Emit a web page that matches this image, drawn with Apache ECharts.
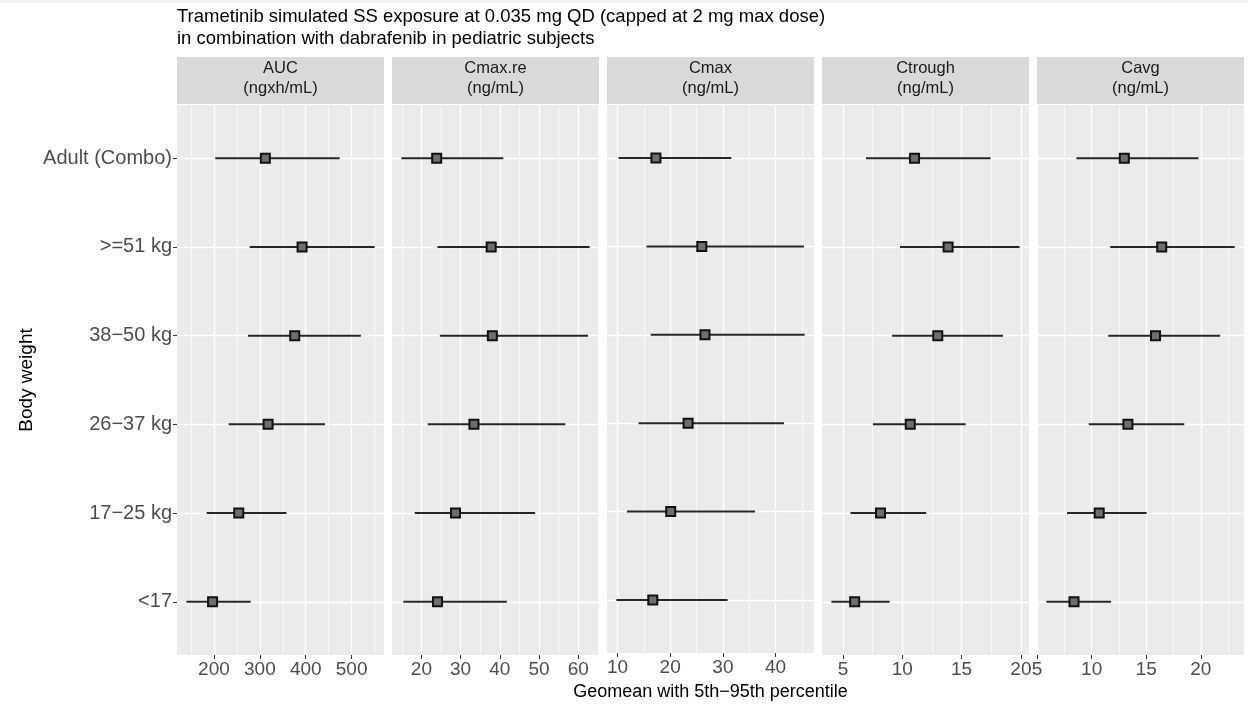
<!DOCTYPE html>
<html>
<head>
<meta charset="utf-8">
<script src="https://cdn.jsdelivr.net/npm/echarts@6/dist/echarts.min.js"></script>
<style>
  html, body { margin: 0; padding: 0; background: #ffffff; }
  #chart { width: 1248px; height: 706px; }
</style>
</head>
<body>
<div id="chart"></div>
<script>
// Body-weight groups, top row first
const groups = ['Adult (Combo)', '>=51 kg', '38\u221250 kg', '26\u221237 kg', '17\u221225 kg', '<17'];

// Facet headers
const panelTitles = ['AUC\n(ngxh/mL)', 'Cmax.re\n(ng/mL)', 'Cmax\n(ng/mL)', 'Ctrough\n(ng/mL)', 'Cavg\n(ng/mL)'];

// Geometric mean, 5th and 95th percentile per group
const aucGeo = [312, 392, 376, 318, 254, 197];
const aucP5 = [203, 278, 274, 232, 184, 140];
const aucP95 = [474, 550, 520, 442, 358, 280];

const cmaxReGeo = [23.9, 37.8, 38.1, 33.4, 28.7, 24.1];
const cmaxReP5 = [14.9, 24.1, 24.7, 21.6, 18.3, 15.4];
const cmaxReP95 = [40.9, 62.9, 62.5, 56.7, 49.0, 41.8];

const cmaxGeo = [17.3, 26.0, 26.6, 23.4, 20.1, 16.7];
const cmaxP5 = [10.2, 15.5, 16.3, 14.0, 11.8, 9.8];
const cmaxP95 = [31.6, 45.4, 45.5, 41.6, 36.1, 30.9];

const ctroughGeo = [11.03, 13.86, 12.99, 10.67, 8.16, 5.98];
const ctroughP5 = [6.93, 9.80, 9.14, 7.53, 5.63, 4.02];
const ctroughP95 = [17.44, 19.89, 18.49, 15.34, 12.01, 8.93];

const cavgGeo = [12.99, 16.42, 15.85, 13.32, 10.69, 8.38];
const cavgP5 = [8.60, 11.70, 11.52, 9.73, 7.74, 5.85];
const cavgP95 = [19.79, 23.10, 21.78, 18.49, 15.03, 11.78];

// Axis breaks per facet
const aucTicks = [200, 300, 400, 500];
const aucMinor = [150, 250, 350, 450, 550];
const cmaxReTicks = [20, 30, 40, 50, 60];
const cmaxReMinor = [15, 25, 35, 45, 55, 65];
const cmaxTicks = [10, 20, 30, 40];
const cmaxMinor = [15, 25, 35, 45];
const ctroughTicks = [5, 10, 15, 20];
const ctroughMinor = [7.5, 12.5, 17.5];
const cavgTicks = [5, 10, 15, 20];
const cavgMinor = [7.5, 12.5, 17.5, 22.5];

const panels = [
  { title: panelTitles[0], geo: aucGeo, lo: aucP5, hi: aucP95, ticks: aucTicks, minor: aucMinor },
  { title: panelTitles[1], geo: cmaxReGeo, lo: cmaxReP5, hi: cmaxReP95, ticks: cmaxReTicks, minor: cmaxReMinor },
  { title: panelTitles[2], geo: cmaxGeo, lo: cmaxP5, hi: cmaxP95, ticks: cmaxTicks, minor: cmaxMinor },
  { title: panelTitles[3], geo: ctroughGeo, lo: ctroughP5, hi: ctroughP95, ticks: ctroughTicks, minor: ctroughMinor },
  { title: panelTitles[4], geo: cavgGeo, lo: cavgP5, hi: cavgP95, ticks: cavgTicks, minor: cavgMinor }
];

// Facet layout
const FONT = '"Liberation Sans", Arial, sans-serif';
const panelLeft0 = 177, panelStep = 215, panelWidth = 207;
const panelTop = 105, panelHeight = 550;
const stripTop = 57, stripHeight = 47;
const catIdx = groups.map((g, j) => j + 1);

const grids = [], xAxes = [], yAxes = [], series = [];
const graphics = [
  // faint band along the top edge
  { type: 'rect', silent: true, shape: { x: 0, y: 0, width: 1248, height: 3 }, style: { fill: '#F0F0F0' } }
];

panels.forEach((p, i) => {
  const left = panelLeft0 + i * panelStep;
  grids.push({
    left: left, top: panelTop, width: panelWidth, height: panelHeight,
    show: true, backgroundColor: '#EBEBEB', borderWidth: 0, containLabel: false
  });

  // 5% expansion around the data extent on each side
  const dMin = Math.min(...p.lo), dMax = Math.max(...p.hi);
  const pad = (dMax - dMin) * 0.05;
  const xMin = dMin - pad, xMax = dMax + pad;

  // minor grid lines
  xAxes.push({
    type: 'value', gridIndex: i, position: 'bottom', min: xMin, max: xMax,
    axisLine: { show: false },
    axisTick: { show: false, customValues: p.minor },
    axisLabel: { show: false, customValues: p.minor },
    splitLine: { show: true, lineStyle: { color: '#FFFFFF', width: 0.7 } }
  });
  // major grid lines, ticks and labels
  const major = {
    type: 'value', gridIndex: i, position: 'bottom', offset: 0, min: xMin, max: xMax,
    axisLine: { show: false, onZero: false },
    axisTick: { show: true, length: 4, customValues: p.ticks, lineStyle: { color: '#333333', width: 1 } },
    axisLabel: { show: true, customValues: p.ticks, color: '#4D4D4D', fontSize: 19, fontFamily: FONT, margin: 5 },
    splitLine: { show: true, lineStyle: { color: '#FFFFFF', width: 1.4 } }
  };
  if (i === 2) {
    major.name = 'Geomean with 5th\u221295th percentile';
    major.nameLocation = 'middle';
    major.nameGap = 30;
    major.nameTextStyle = { color: '#000000', fontSize: 18, fontFamily: FONT };
  }
  xAxes.push(major);

  const yAx = {
    type: 'value', gridIndex: i, min: 0.4, max: 6.6, inverse: true,
    axisLine: { show: false, onZero: false },
    axisTick: { show: i === 0, length: 4, customValues: catIdx, lineStyle: { color: '#333333', width: 1 } },
    axisLabel: {
      show: i === 0, customValues: catIdx, color: '#4D4D4D', fontSize: 20, fontFamily: FONT, margin: 5,
      formatter: v => groups[Math.round(v) - 1] || ''
    },
    splitLine: { show: true, lineStyle: { color: '#FFFFFF', width: 1.4 } }
  };
  if (i === 0) {
    yAx.name = 'Body weight';
    yAx.nameLocation = 'middle';
    yAx.nameRotate = 90;
    yAx.nameGap = 141;
    yAx.nameTextStyle = { color: '#000000', fontSize: 19, fontFamily: FONT };
  }
  yAxes.push(yAx);

  // 5th-95th percentile range
  series.push({
    type: 'custom', xAxisIndex: 2 * i + 1, yAxisIndex: i, z: 3,
    encode: { x: [1, 2], y: 0 },
    data: groups.map((g, j) => [j + 1, p.lo[j], p.hi[j]]),
    renderItem: (params, api) => {
      const y = api.value(0);
      const a = api.coord([api.value(1), y]);
      const b = api.coord([api.value(2), y]);
      return {
        type: 'line',
        shape: { x1: a[0], y1: a[1], x2: b[0], y2: b[1] },
        style: { stroke: '#262626', lineWidth: 2 }
      };
    },
    silent: true
  });
  // geometric mean
  series.push({
    type: 'scatter', xAxisIndex: 2 * i + 1, yAxisIndex: i, z: 4,
    symbol: 'rect', symbolSize: 9,
    itemStyle: { color: '#6E6E6E', borderColor: '#111111', borderWidth: 2, opacity: 1 },
    data: groups.map((g, j) => [p.geo[j], j + 1]),
    silent: true
  });

  // facet strip
  graphics.push({
    type: 'rect', silent: true,
    shape: { x: left, y: stripTop, width: panelWidth, height: stripHeight },
    style: { fill: '#D9D9D9' }
  });
  graphics.push({
    type: 'text', silent: true,
    style: {
      text: p.title, x: left + panelWidth / 2, y: stripTop + stripHeight / 2 - 2,
      align: 'center', verticalAlign: 'middle',
      fontSize: 16.5, fontFamily: FONT, fill: '#1A1A1A', lineHeight: 20
    }
  });
});

const chart = echarts.init(document.getElementById('chart'), null, { renderer: 'canvas' });
chart.setOption({
  backgroundColor: '#FFFFFF',
  animation: false,
  title: {
    text: 'Trametinib simulated SS exposure at 0.035 mg QD (capped at 2 mg max dose)\nin combination with dabrafenib in pediatric subjects',
    left: 172, top: 1,
    textStyle: { color: '#000000', fontSize: 18.5, fontWeight: 'normal', fontFamily: FONT, lineHeight: 22 }
  },
  grid: grids,
  xAxis: xAxes,
  yAxis: yAxes,
  series: series,
  graphic: graphics
});
</script>
</body>
</html>
